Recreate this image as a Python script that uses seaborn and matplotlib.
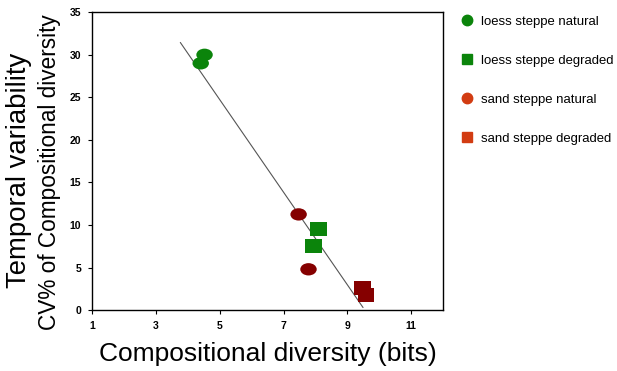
import numpy as np
import pandas as pd
import matplotlib
matplotlib.use("Agg")
import matplotlib.pyplot as plt
import seaborn as sns
from matplotlib.path import Path
from matplotlib.transforms import Affine2D
from matplotlib.lines import Line2D

# Data
groups = ["loess steppe natural", "loess steppe natural",
          "loess steppe degraded", "loess steppe degraded",
          "sand steppe natural", "sand steppe natural",
          "sand steppe degraded", "sand steppe degraded"]
diversity = [4.52, 4.40, 8.09, 7.94, 7.47, 7.78, 9.47, 9.59]
cv = [30.0, 29.0, 9.5, 7.5, 11.25, 4.8, 2.65, 1.8]
fit_x = [3.76, 9.49]
fit_y = [31.45, 0.31]
legend_labels = ["loess steppe natural", "loess steppe degraded",
                 "sand steppe natural", "sand steppe degraded"]
x_ticks = [1, 3, 5, 7, 9, 11]
y_ticks = [0, 5, 10, 15, 20, 25, 30, 35]

df = pd.DataFrame({"group": groups, "diversity": diversity, "cv": cv})

sns.set_style("ticks")
plt.rcParams['font.family'] = ['Liberation Sans', 'DejaVu Sans']
plt.rcParams['text.color'] = 'black'
plt.rcParams['axes.labelcolor'] = 'black'
plt.rcParams['xtick.color'] = 'black'
plt.rcParams['ytick.color'] = 'black'

fig = plt.figure(figsize=(6.17, 3.71), dpi=100)
ax = fig.add_axes([0.1496, 0.164, 0.5685, 0.803])

green = "#0b840b"
dark_red = "#850000"
legend_red = "#d23c12"

ellipse = Path.unit_circle().transformed(Affine2D().scale(1.0, 0.75))
square = Path.unit_rectangle().transformed(Affine2D().translate(-0.5, -0.5).scale(1.0, 0.85))

palette = {"loess steppe natural": green, "loess steppe degraded": green,
           "sand steppe natural": dark_red, "sand steppe degraded": dark_red}
markers = {"loess steppe natural": ellipse, "loess steppe degraded": square,
           "sand steppe natural": ellipse, "sand steppe degraded": square}

sns.lineplot(x=fit_x, y=fit_y, ax=ax, color="#555555", linewidth=0.8, zorder=1)
sns.scatterplot(data=df, x="diversity", y="cv", hue="group", style="group",
                palette=palette, markers=markers, s=140, linewidth=0,
                ax=ax, legend=False, zorder=3)

ax.set_xlim(1, 12)
ax.set_ylim(0, 35)
ax.set_xticks(x_ticks)
ax.set_yticks(y_ticks)
ax.set_xticklabels([str(t) for t in x_ticks], fontsize=7.5, fontweight="bold")
ax.set_yticklabels([str(t) for t in y_ticks], fontsize=7.5, fontweight="bold")
ax.tick_params(direction="out", length=3, width=0.8, pad=5, colors="black")
for s in ax.spines.values():
    s.set_visible(True)
    s.set_linewidth(1.0)
    s.set_color("black")

ax.set_xlabel("Compositional diversity (bits)", fontsize=19, labelpad=8,
              color="black")
ax.set_ylabel("")

fig.text(0.031, 0.542, "Temporal variability", rotation=90, fontsize=19.8,
         ha="center", va="center", color="black")
fig.text(0.080, 0.536, "CV% of Compositional diversity", rotation=90, fontsize=16.3,
         ha="center", va="center", color="black")

handles = [
    Line2D([], [], marker="o", linestyle="none", color=green, markersize=7.5),
    Line2D([], [], marker="s", linestyle="none", color=green, markersize=7),
    Line2D([], [], marker="o", linestyle="none", color=legend_red, markersize=7.5),
    Line2D([], [], marker="s", linestyle="none", color=legend_red, markersize=7),
]
leg = fig.legend(handles, legend_labels, loc="upper left", bbox_to_anchor=(0.727, 0.99),
                 frameon=False, fontsize=9.45, labelspacing=2.05, handletextpad=0.55,
                 handlelength=1.0)
for t in leg.get_texts():
    t.set_color("black")

fig.savefig("out.png", dpi=100)
